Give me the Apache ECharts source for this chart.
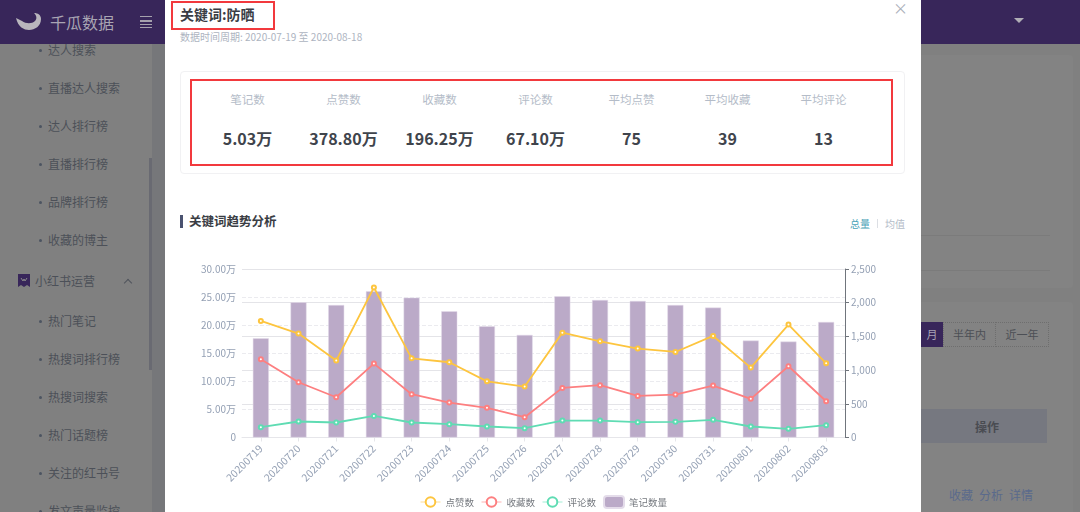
<!DOCTYPE html>
<html>
<head>
<meta charset="utf-8">
<script src="https://cdn.jsdelivr.net/npm/echarts@6/dist/echarts.min.js"></script>
<style>
html,body{margin:0;padding:0;width:1080px;height:512px;overflow:hidden;background:#808080;font-family:"Noto Sans CJK SC","Noto Sans",sans-serif;}
body{filter:blur(0.35px);}
div{position:absolute;white-space:nowrap;box-sizing:border-box;}
.menu{left:48px;font-size:12px;line-height:16px;color:#4c5058;}
.dot{left:39px;width:3px;height:3px;border-radius:50%;background:#4c5461;}
.statname{width:96px;text-align:center;font-size:11.5px;line-height:16px;top:91px;color:#b4bcc8;}
.statval{width:96px;text-align:center;font-size:16px;line-height:22px;top:127px;font-weight:bold;color:#3f444c;}
.redbox{border:2px solid #f2393d;}
.link{top:487px;font-size:12px;line-height:16px;color:#5a6a8c;}
.bar{left:140px;height:1px;background:#a5a1ad;}
</style>
</head>
<body>
<!-- 背景页面 -->
<div style="left:152px;top:44px;width:13px;height:468px;background:#76777a"></div>
<div style="left:149px;top:158px;width:3px;height:212px;background:#696a72"></div>
<div id="menubox"></div>
<svg style="position:absolute;left:18px;top:274px" width="12" height="14" viewBox="0 0 12 14"><path d="M0 0H12V13L9 11L6 13L3 11L0 13Z" fill="#38265a"/><path d="M3 4L5 7L6 5L7 7L9 4" fill="none" stroke="#8a8a8a" stroke-width="1"/></svg>
<div class="menu" style="left:35px;top:273px;color:#4c5058">小红书运营</div>
<div style="left:125px;top:280px;width:6px;height:6px;border-left:1px solid #50545c;border-top:1px solid #50545c;transform:rotate(45deg)"></div>

<div style="left:921px;top:55px;width:152px;height:233px;background:#838383;border-radius:0 4px 4px 0"></div>
<div style="left:921px;top:302px;width:152px;height:210px;background:#838383;border-radius:0 4px 0 0"></div>
<div style="left:921px;top:235px;width:129px;height:1px;background:#7b7b7b"></div>
<div style="left:921px;top:270px;width:129px;height:1px;background:#7b7b7b"></div>
<div style="left:921px;top:322px;width:22px;height:25px;background:#38265a;color:#a9a4b6;font-size:11px;line-height:25px;text-align:center">月</div>
<div style="left:943px;top:322px;width:53px;height:25px;border:1px dotted #6e6e6e;color:#4c4f55;font-size:11px;line-height:23px;text-align:center">半年内</div>
<div style="left:995px;top:322px;width:54px;height:25px;border:1px dotted #6e6e6e;color:#4c4f55;font-size:11px;line-height:23px;text-align:center">近一年</div>
<div style="left:921px;top:409px;width:126px;height:34px;background:#767880;color:#4a4c52;font-size:12px;font-weight:bold;line-height:36px;text-align:right;padding-right:48px">操作</div>
<div class="link" style="left:949px">收藏</div>
<div class="link" style="left:979px">分析</div>
<div class="link" style="left:1009px">详情</div>

<!-- 顶部导航 -->
<div style="left:0;top:0;width:1080px;height:44px;background:#38265a"></div>
<svg style="position:absolute;left:15px;top:10px" width="28" height="24" viewBox="0 0 28 24"><path d="M1 8C3 17 9 20 14 20C20 20 26 16 26 9C26 5 23 3 19 3C22 6 22 9 20 11C17 14 11 14 7 11C5 10 3 9 1 8Z" fill="#b9b6bd"/></svg>
<div style="left:50px;top:10px;font-size:16px;line-height:24px;color:#a9a5b3">千瓜数据</div>
<div class="bar" style="top:16px;width:12px"></div>
<div class="bar" style="top:20px;width:12px;height:2px"></div>
<div class="bar" style="top:24px;width:12px"></div>
<div class="bar" style="top:27px;width:12px"></div>
<div style="left:1014px;top:18px;width:0;height:0;border-left:5px solid transparent;border-right:5px solid transparent;border-top:5px solid #b0aeb6"></div>

<!-- 弹窗 -->
<div style="left:165px;top:0;width:756px;height:512px;background:#fff"></div>
<div style="left:180px;top:4px;font-size:14px;line-height:20px;font-weight:bold;color:#3a3d44">关键词:防晒</div>
<div class="redbox" style="left:171px;top:1px;width:104px;height:29px"></div>
<div style="left:180px;top:29px;font-size:10px;line-height:15px;color:#adb4bf">数据时间周期: 2020-07-19 至 2020-08-18</div>
<div style="left:893px;top:0px;font-size:15px;line-height:16px;color:#aab0ba">×</div>
<div style="left:180px;top:71px;width:725px;height:103px;border:1px solid #f1f1f3;border-radius:4px"></div>
<div class="redbox" style="left:190px;top:79px;width:703px;height:87px"></div>
<div id="statbox"></div>
<div style="left:180px;top:215px;width:3px;height:13px;background:#4a5270"></div>
<div style="left:189px;top:212px;font-size:12.5px;line-height:18px;font-weight:bold;color:#3a3d44">关键词趋势分析</div>
<div style="left:850px;top:217px;font-size:10px;line-height:14px;color:#4aa3b8">总量</div>
<div style="left:877px;top:219px;width:1px;height:9px;background:#dcdfe4"></div>
<div style="left:885px;top:217px;font-size:10px;line-height:14px;color:#b4bcc8">均值</div>

<div id="main" style="left:165px;top:250px;width:756px;height:262px"></div>

<script>
var dates=['20200719','20200720','20200721','20200722','20200723','20200724','20200725','20200726','20200727','20200728','20200729','20200730','20200731','20200801','20200802','20200803'];
// 单位:万
var likes=[20.75,18.5,13.7,26.7,14.1,13.4,10.0,9.07,18.67,17.13,15.83,15.23,18.08,12.45,20.1,13.2];
var collects=[13.93,9.84,7.17,13.16,7.71,6.22,5.28,3.62,8.83,9.31,7.41,7.65,9.25,6.88,12.69,6.46];
var comments=[1.84,2.85,2.67,3.85,2.67,2.37,1.96,1.66,3.02,3.02,2.73,2.79,3.14,1.96,1.54,2.19];
var notes=[1472,2006,1966,2169,2075,1873,1650,1522,2095,2040,2026,1966,1927,1438,1423,1714];

var statNames=['笔记数','点赞数','收藏数','评论数','平均点赞','平均收藏','平均评论'];
var statValues=['5.03万','378.80万','196.25万','67.10万','75','39','13'];
var menuUpper=['达人搜索','直播达人搜索','达人排行榜','直播排行榜','品牌排行榜','收藏的博主'];
var menuLower=['热门笔记','热搜词排行榜','热搜词搜索','热门话题榜','关注的红书号','发文声量监控'];

function addMenu(items,top){
	var box=document.getElementById('menubox');
	for(var i=0;i<items.length;i++){
		var y=top+i*37.9;
		box.innerHTML+='<div class="dot" style="top:'+(y+7)+'px"></div><div class="menu" style="top:'+y+'px">'+items[i]+'</div>';
	}
}
addMenu(menuUpper,42);
addMenu(menuLower,313);

var statHtml='';
for(var i=0;i<statNames.length;i++){
	var x=199.5+i*96;
	statHtml+='<div class="statname" style="left:'+x+'px">'+statNames[i]+'</div><div class="statval" style="left:'+x+'px">'+statValues[i]+'</div>';
}
document.getElementById('statbox').innerHTML=statHtml;

function lineSeries(name,data,color){
	return {
		name:name,
		type:'line',
		yAxisIndex:0,
		z:3,
		data:data,
		symbol:'emptyCircle',
		symbolSize:4,
		showSymbol:true,
		lineStyle:{color:color,width:1.8},
		itemStyle:{color:color,borderWidth:1}
	};
}

// 图例的线和圈比折线本身更淡更细
function legendItem(name,color){
	return {
		name:name,
		lineStyle:{color:color,width:1},
		itemStyle:{borderColor:color,borderWidth:1}
	};
}

var chart=echarts.init(document.getElementById('main'));
var font='"Noto Sans CJK SC","Noto Sans",sans-serif';
chart.setOption({
	animation:false,
	legend:{
		top:240,
		left:250,
		itemWidth:20,
		itemHeight:12,
		itemGap:7,
		textStyle:{fontSize:9.5,color:'#75797f',fontFamily:font},
		data:[
			legendItem('点赞数','#fedd95'),
			legendItem('收藏数','#fdb3b3'),
			legendItem('评论数','#a3eed5'),
			{name:'笔记数量',icon:'roundRect'}
		]
	},
	grid:{left:77,right:76,top:19,bottom:74.5},
	xAxis:[{
		type:'category',
		data:dates,
		axisLine:{lineStyle:{color:'#e6e6ea'}},
		axisTick:{show:true,alignWithLabel:true,length:4,lineStyle:{color:'#e6e6ea'}},
		axisLabel:{rotate:45,interval:0,fontSize:10.5,color:'#94a0b4',margin:9,fontFamily:font}
	}],
	yAxis:[{
		type:'value',
		min:0,
		max:30,
		interval:5,
		axisLine:{show:false},
		axisTick:{show:false},
		axisLabel:{fontSize:10,color:'#94a0b4',margin:6,fontFamily:font,formatter:function(v){return v==0?'0':v.toFixed(2)+'万';}},
		splitLine:{lineStyle:{color:'#ebebef',type:'dashed'}}
	},{
		type:'value',
		min:0,
		max:2500,
		interval:500,
		position:'right',
		axisLine:{show:true,lineStyle:{color:'#70757c'}},
		axisTick:{show:true,length:4,lineStyle:{color:'#70757c'}},
		axisLabel:{fontSize:10,color:'#94a0b4',margin:6,fontFamily:font,formatter:function(v){return v.toLocaleString('en-US');}},
		splitLine:{show:true,lineStyle:{color:'#e4e4e8',width:1}}
	}],
	series:[
		lineSeries('点赞数',likes,'#fdc53f'),
		lineSeries('收藏数',collects,'#fd7f80'),
		lineSeries('评论数',comments,'#5fdcb3'),
		{
			name:'笔记数量',
			type:'bar',
			yAxisIndex:1,
			barWidth:16,
			z:2,
			data:notes,
			itemStyle:{color:'#bbaac8',borderColor:'#e4dcea',borderWidth:0.5}
		}
	]
});
</script>
</body>
</html>
